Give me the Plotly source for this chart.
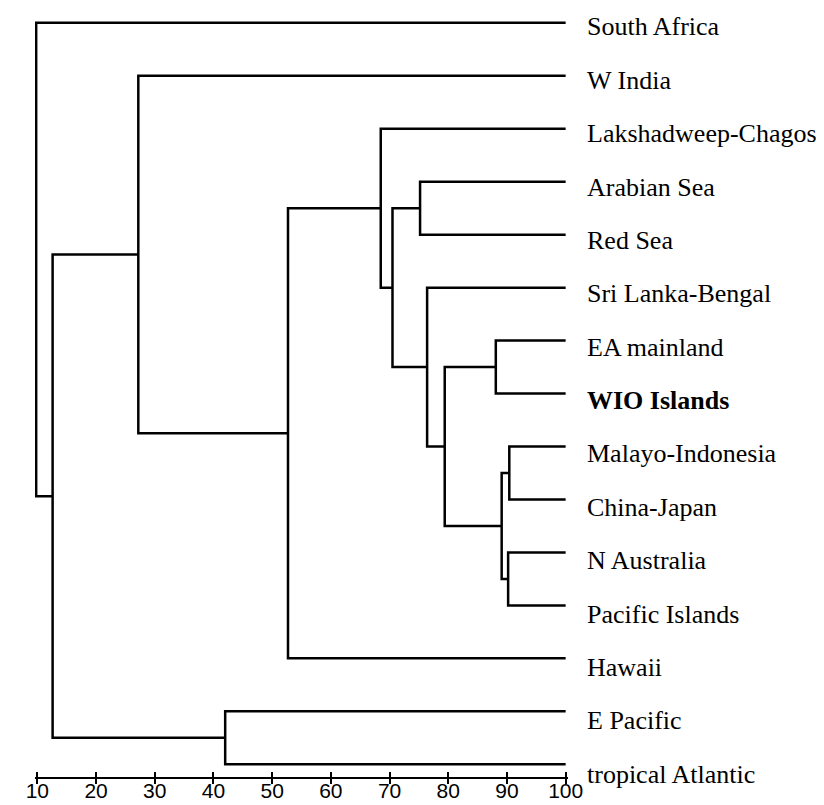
import plotly.graph_objects as go

# Leaves (top to bottom)
leaves = ["South Africa", "W India", "Lakshadweep-Chagos", "Arabian Sea", "Red Sea",
          "Sri Lanka-Bengal", "EA mainland", "WIO Islands", "Malayo-Indonesia",
          "China-Japan", "N Australia", "Pacific Islands", "Hawaii", "E Pacific",
          "tropical Atlantic"]
bold_leaves = ["WIO Islands"]
leaf_similarity = 100.0

# Linkage: new node id = len(leaves) + merge index
merge_a = [8, 10, 15, 6, 18, 5, 3, 21, 2, 23, 1, 13, 25, 0]
merge_b = [9, 11, 16, 7, 17, 19, 4, 20, 22, 12, 24, 14, 26, 27]
merge_sim = [90.4, 90.2, 89.1, 88.1, 79.4, 76.4, 75.2, 70.5, 68.5, 52.7, 27.2, 42.0, 12.6, 9.8]

x_ticks = [10, 20, 30, 40, 50, 60, 70, 80, 90, 100]

# node positions
n = len(leaves)
node_x = {i: leaf_similarity for i in range(n)}
node_y = {i: -i for i in range(n)}
xs, ys = [], []
for k, (a, b, s) in enumerate(zip(merge_a, merge_b, merge_sim)):
    nid = n + k
    xs += [node_x[a], s, s, node_x[b], None]
    ys += [node_y[a], node_y[a], node_y[b], node_y[b], None]
    node_x[nid] = s
    node_y[nid] = (node_y[a] + node_y[b]) / 2

fig = go.Figure()
fig.add_trace(go.Scatter(x=xs, y=ys, mode="lines",
                         line=dict(color="black", width=2.5),
                         hoverinfo="skip", showlegend=False))
fig.add_trace(go.Scatter(x=[50], y=[-7], xaxis="x2", mode="markers",
                         marker=dict(opacity=0), hoverinfo="skip", showlegend=False))

annotations = []
for i, name in enumerate(leaves):
    txt = f"<b>{name}</b>" if name in bold_leaves else name
    annotations.append(dict(x=leaf_similarity, y=-i, xref="x", yref="y", text=txt,
                            showarrow=False, xanchor="left", yanchor="middle",
                            xshift=19, yshift=-(4 + 0.43 * i),
                            font=dict(family="Liberation Serif", size=26, color="black")))

fig.update_layout(
    width=824, height=805,
    margin=dict(l=27, r=264, t=0, b=36),
    paper_bgcolor="white", plot_bgcolor="white",
    annotations=annotations,
    xaxis=dict(range=[9.6, 100.4], tickvals=x_ticks, ticks="outside", ticklen=5,
               tickwidth=2, tickcolor="black", showline=True, linewidth=2,
               linecolor="black", showgrid=False, zeroline=False,
               ticklabelstandoff=-11,
               tickfont=dict(family="Liberation Sans", size=21, color="black")),
    xaxis2=dict(range=[9.6, 100.4], overlaying="x", anchor="y", side="bottom",
                tickvals=x_ticks, ticks="inside", ticklen=5, tickwidth=2,
                tickcolor="black", showticklabels=False, showgrid=False,
                zeroline=False, showline=False),
    yaxis=dict(range=[-14.24, 0.28], visible=False),
)

fig.write_html("out.html")
